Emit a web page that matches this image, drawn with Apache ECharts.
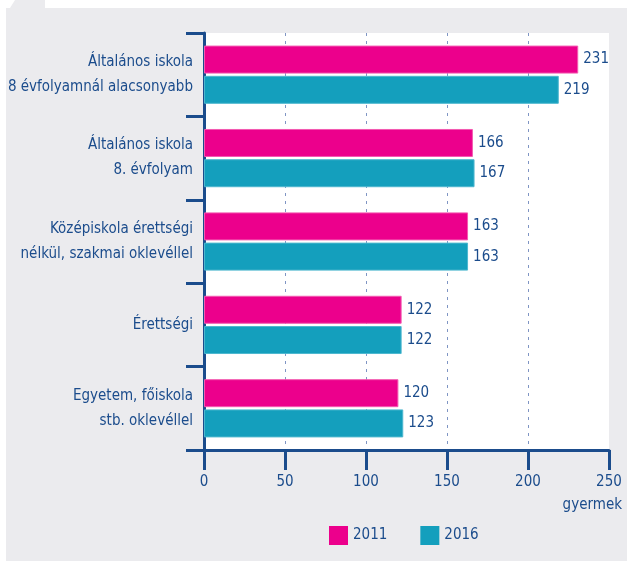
<!DOCTYPE html>
<html>
<head>
<meta charset="utf-8">
<script src="https://cdn.jsdelivr.net/npm/echarts@6/dist/echarts.min.js"></script>
<style>
  html, body { margin: 0; padding: 0; background: #fff; }
  #chart { width: 627px; height: 561px; }
</style>
</head>
<body>
<div id="chart"></div>
<script>
var categories = [
  "Általános iskola\n8 évfolyamnál alacsonyabb",
  "Általános iskola\n8. évfolyam",
  "Középiskola érettségi\nnélkül, szakmai oklevéllel",
  "Érettségi",
  "Egyetem, főiskola\nstb. oklevéllel"
];
var values2011 = [231, 166, 163, 122, 120];
var values2016 = [219, 167, 163, 122, 123];
var xTicks = [0, 50, 100, 150, 200, 250];

var FONT = "'Liberation Sans Narrow', 'DejaVu Sans Condensed', sans-serif";
var BLUE = "#1b4c8c";
var FS = 15;

var chart = echarts.init(document.getElementById('chart'));

chart.setOption({
  backgroundColor: "#ffffff",
  textStyle: { fontFamily: FONT },
  graphic: [
    {
      type: "polygon",
      z: -10,
      shape: {
        points: [[6, 8], [10, 8], [15, 0], [45, 0], [45, 8], [627, 8], [627, 561], [6, 561]]
      },
      style: { fill: "#ebebee" },
      silent: true
    },
    {
      type: "text",
      right: 5,
      top: 498,
      style: { text: "gyermek", fill: BLUE, font: FS + "px " + FONT, textAlign: "right" }
    }
  ],
  grid: {
    left: 204,
    right: 18,
    top: 33,
    bottom: 111,
    outerBoundsMode: "none",
    containLabel: false,
    show: true,
    backgroundColor: "#ffffff",
    borderWidth: 0
  },
  legend: {
    left: 324,
    top: 521,
    itemWidth: 19,
    itemHeight: 19,
    itemGap: 33,
    icon: "rect",
    itemStyle: { borderWidth: 0 },
    textStyle: { color: BLUE, fontSize: FS, fontFamily: FONT },
    data: ["2011", "2016"]
  },
  xAxis: {
    type: "value",
    min: 0,
    max: 250,
    interval: 50,
    axisLine: { show: true, lineStyle: { color: BLUE, width: 3 } },
    axisTick: { show: true, length: 20, lineStyle: { color: BLUE, width: 3 } },
    axisLabel: {
      color: BLUE, fontSize: FS, fontFamily: FONT, margin: 25,
      formatter: function (v) { return xTicks.indexOf(v) >= 0 ? String(v) : ""; }
    },
    splitLine: {
      show: true,
      showMinLine: false,
      showMaxLine: false,
      lineStyle: { color: "#7f95c4", width: 1, type: [3, 5] }
    }
  },
  yAxis: {
    type: "category",
    inverse: true,
    data: categories,
    axisLine: { show: true, lineStyle: { color: BLUE, width: 3 } },
    axisTick: { show: true, length: 18, lineStyle: { color: BLUE, width: 3 } },
    axisLabel: {
      color: BLUE, fontSize: FS, fontFamily: FONT, margin: 11,
      lineHeight: 25, align: "right"
    }
  },
  series: [
    {
      name: "2011",
      type: "bar",
      data: values2011,
      barWidth: 28,
      barGap: "8%",
      itemStyle: { color: "#ec008c", borderColor: "#f35ab0", borderWidth: 1 },
      label: { show: true, position: "right", distance: 5, color: BLUE, fontSize: FS, fontFamily: FONT }
    },
    {
      name: "2016",
      type: "bar",
      data: values2016,
      barWidth: 28,
      itemStyle: { color: "#149fbd", borderColor: "#4db7cf", borderWidth: 1 },
      label: { show: true, position: "right", distance: 5, color: BLUE, fontSize: FS, fontFamily: FONT }
    }
  ]
});

window.addEventListener("resize", function () {
  chart.resize();
});
</script>
</body>
</html>
